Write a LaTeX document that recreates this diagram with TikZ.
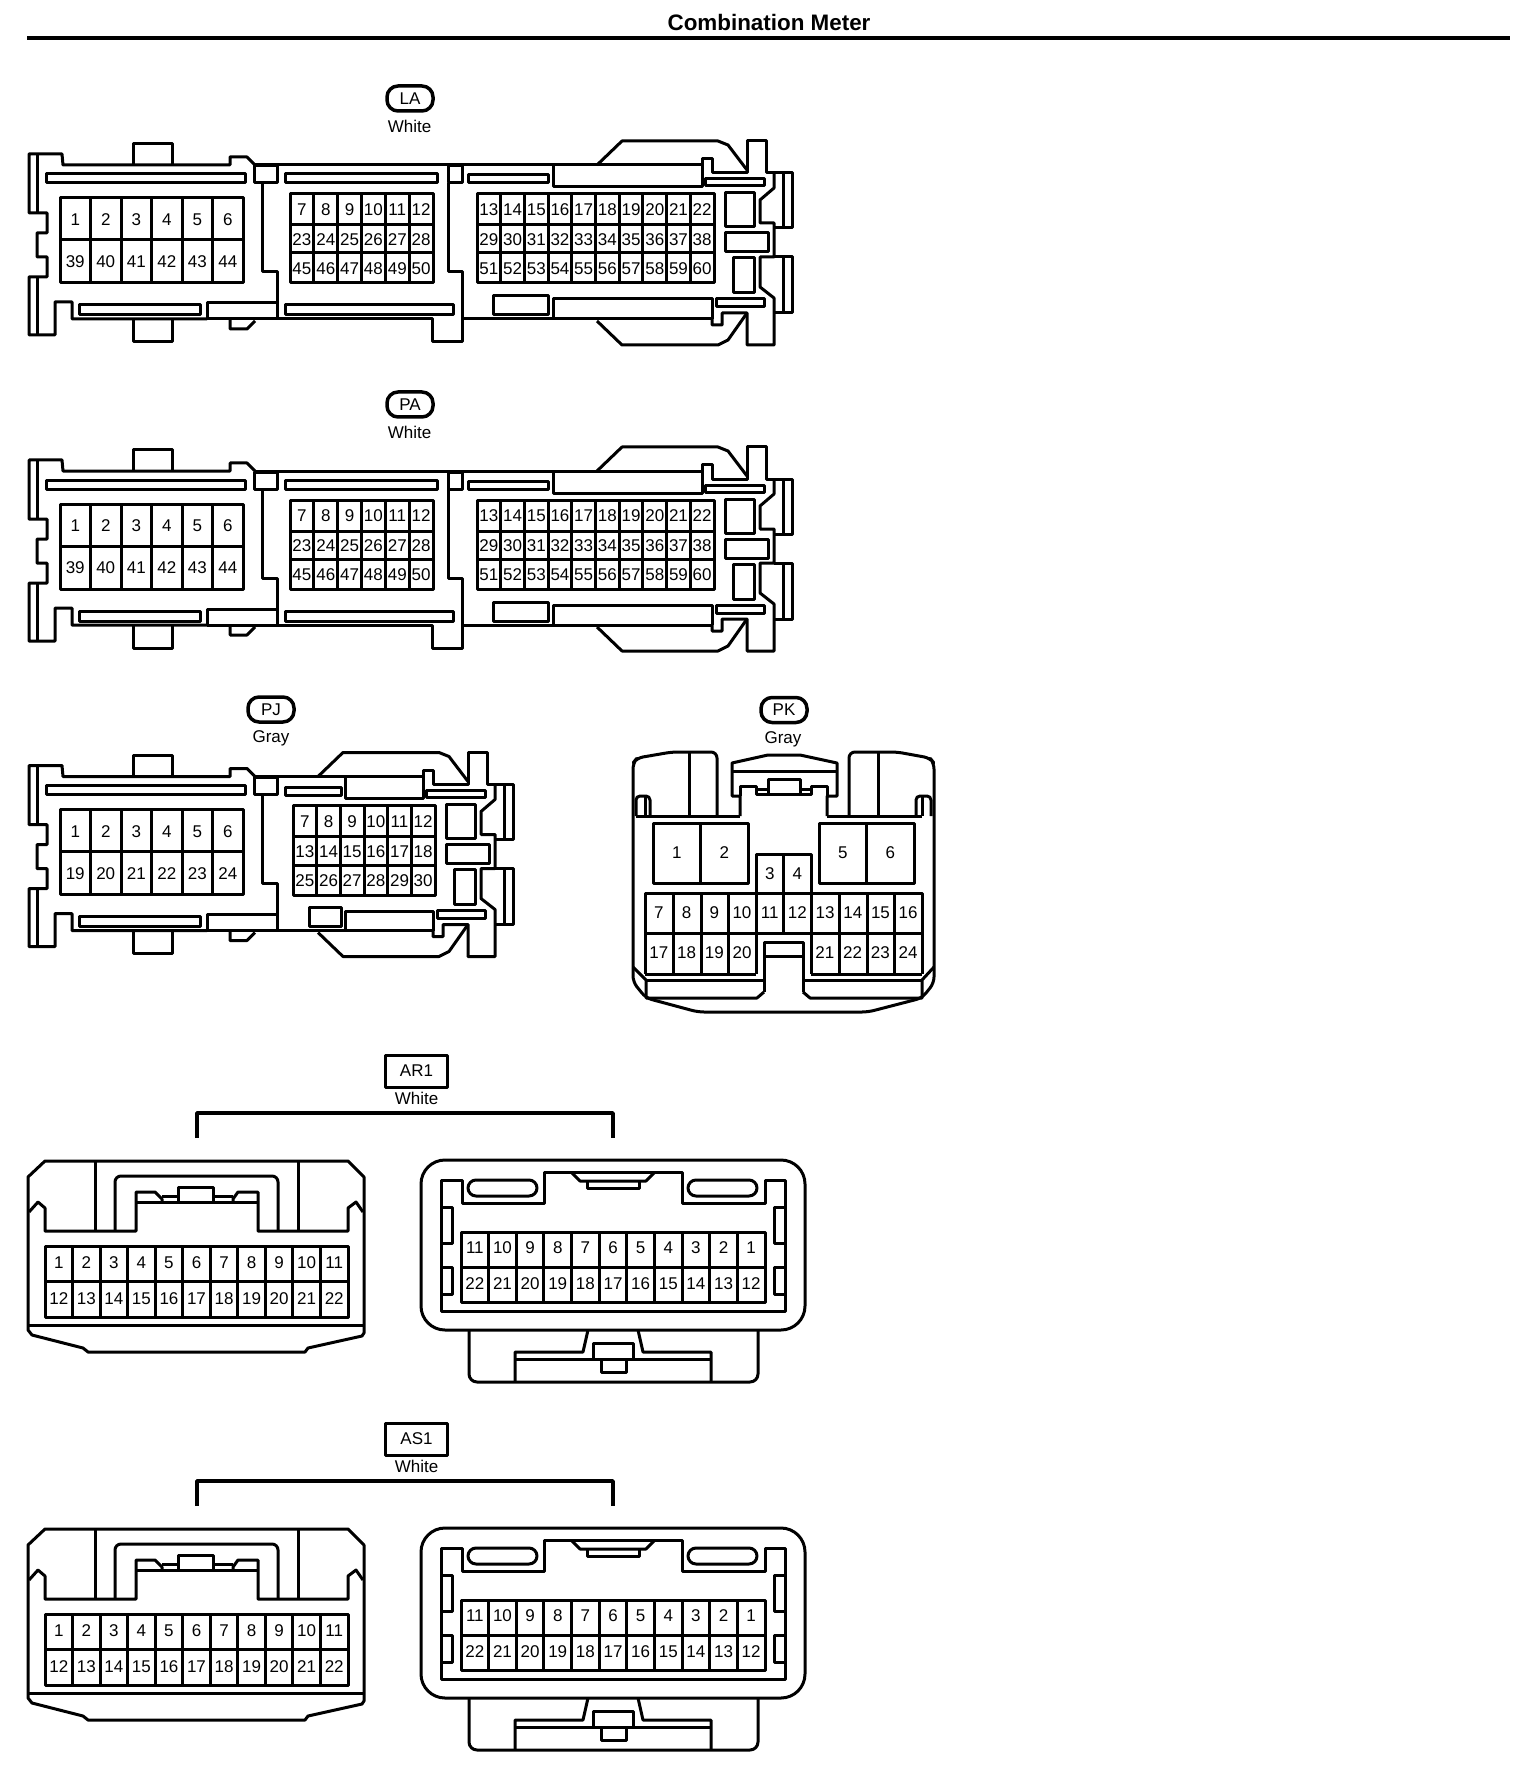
\documentclass[tikz,border=0pt]{standalone}
\usepackage{fontspec}
\setmainfont{Liberation Sans}
\newcommand{\pinbox}[6]{%
  \draw[conn] (#1,#2) rectangle (#3,#4);
  \pgfmathtruncatemacro{\lastcol}{#5-1}
  \foreach \c in {1,...,\lastcol} {
    \draw[conn] ({#1+\c*(#3-#1)/#5},#2) -- ({#1+\c*(#3-#1)/#5},#4);
  }
  \foreach \r in {#6} {
    \draw[conn] (#1,\r) -- (#3,\r);
  }
}
\newcommand{\pinrow}[6]{%
  \foreach \lab [count=\i] in {#6} {
    \node[pin] (#1\lab) at ({#2+(\i-0.5)*(#3-#2)/#4},#5) {\lab};
  }
}
\tikzset{
  conn/.style={line width=1.5pt, line join=round},
  pin/.style={inner sep=0pt, font=\fontsize{8.5}{10}\selectfont},
  colour/.style={inner sep=0pt, font=\fontsize{8.5}{10}\selectfont},
  oval/.style={conn, line width=1.75pt, draw, rounded corners=5.5pt, minimum width=23pt, minimum height=12.5pt, inner sep=0pt, font=\fontsize{8.5}{10}\selectfont},
  tag/.style={conn, draw, minimum width=31pt, minimum height=16pt, inner sep=0pt, font=\fontsize{8.5}{10}\selectfont},
  meterleft/.pic={
    \draw[conn] (207,319) -- (72,319) -- (72,302) -- (55,302) -- (55,335) -- (29,335) -- (29,277) -- (47,277) -- (47,257) -- (37,257) -- (37,233) -- (47,233) -- (47,213) -- (29,213) -- (29,154) -- (62,154) -- (63,165) -- (230,165) -- (230,157) -- (247,157) -- (255,165);
    \draw[conn] (37,154) -- (37,213) (37,277) -- (37,335);
    \draw[conn] (133,165) -- (133,144) -- (172,144) -- (172,165);
    \draw[conn] (133,319) -- (133,342) -- (172,342) -- (172,319);
    \draw[conn] (230,319) -- (230,329) -- (247,329) -- (255,321);
    \draw[conn] (46,174) rectangle (245,183);
    \draw[conn] (79,305) rectangle (200,315);
    \draw[conn] (207,319) -- (207,303) -- (277,303);
    \draw[conn] (254,166) rectangle (277,183);
    \draw[conn] (262,183) -- (262,272) -- (277,272) -- (277,319);
    \draw[conn] (207,319) -- (277,319);
    \pinbox{60}{198}{243}{283}{6}{240}
  },
  meterend/.pic={
    \draw[conn] (702,165) -- (702,159) -- (712,159) -- (712,173) -- (747,173) -- (747,141) -- (766,141) -- (766,173) -- (792,173) -- (792,228) -- (774,228);
    \draw[conn] (774,173) -- (774,188) -- (760,200) -- (760,223) -- (774,223) -- (774,257) -- (760,257) -- (760,287) -- (774,298) -- (774,345) -- (747,345) -- (747,313) -- (722,313) -- (722,325) -- (712,325) -- (712,319);
    \draw[conn] (774,257) -- (792,257) -- (792,313) -- (774,313);
    \draw[conn] (783,173) -- (783,228) (783,257) -- (783,313);
    \draw[conn] (597,165) -- (622,141) -- (718,141) -- (728,145) -- (747,170);
    \draw[conn] (597,321) -- (622,345) -- (718,345) -- (728,340) -- (747,313);
    \draw[conn] (705,179) rectangle (764,186);
    \draw[conn] (716,299) rectangle (764,307);
    \draw[conn] (725,193) rectangle (754,227);
    \draw[conn] (725,233) rectangle (768,252);
    \draw[conn] (733,258) rectangle (754,293);
  },
  metermid/.pic={
    \draw[conn] (255,165) -- (702,165);
    \draw[conn] (277,319) -- (432,319) -- (432,342) -- (462,342) -- (462,272) -- (448,272) -- (448,183);
    \draw[conn] (462,319) -- (712,319);
    \draw[conn] (448,166) rectangle (462,183);
    \draw[conn] (285,174) rectangle (437,183);
    \draw[conn] (285,305) rectangle (453,315);
    \draw[conn] (468,175) rectangle (548,183);
    \draw[conn] (493,296) rectangle (548,315);
    \draw[conn] (553,165) -- (553,187) -- (702,187) -- (702,165);
    \draw[conn] (553,319) -- (553,299) -- (712,299) -- (712,319);
    \pinbox{290}{194}{433}{283}{6}{225,253}
    \pinbox{477}{194}{714}{283}{10}{225,253}
    \pic at (0,0) {meterend};
  },
  arfront/.pic={
    \draw[conn] (28,1177) -- (45,1161) -- (348,1161) -- (364,1177) -- (364,1333) -- (362,1336) -- (308,1348) -- (305,1352) -- (88,1352) -- (83,1348) -- (32,1335) -- (28,1330) -- cycle;
    \draw[conn] (28,1325) -- (364,1325);
    \draw[conn] (29,1212) -- (38,1202) -- (45,1208) -- (45,1231) -- (136,1231) -- (136,1192) -- (155,1192) -- (162,1199) -- (162,1202);
    \draw[conn] (363,1212) -- (356,1202) -- (348,1208) -- (348,1231) -- (258,1231) -- (258,1192) -- (238,1192) -- (233,1199) -- (233,1202);
    \draw[conn] (136,1202) -- (258,1202);
    \draw[conn] (162,1196) -- (178,1196) (213,1196) -- (233,1196);
    \draw[conn] (178,1202) -- (178,1187) -- (213,1187) -- (213,1202);
    \draw[conn, rounded corners=3pt] (115,1231) -- (115,1176) -- (278,1176) -- (278,1231);
    \draw[conn, rounded corners=2pt] (95,1231) -- (95,1161) (298,1161) -- (298,1231);
    \pinbox{45}{1246}{348}{1317}{11}{1281}
  },
  arback/.pic={
    \draw[conn] (421,1160) [rounded corners=12pt] rectangle (805,1330);
    \draw[conn] (462,1180) -- (441,1180) -- (441,1311) -- (785,1311) -- (785,1180) -- (765,1180) -- (765,1203) -- (682,1203) -- (682,1172) -- (544,1172) -- (544,1203) -- (462,1203) -- cycle;
    \draw[conn] (572,1173) -- (580,1181) -- (646,1181) -- (654,1173);
    \draw[conn] (587,1181) -- (587,1188) -- (639,1188) -- (639,1181);
    \draw[conn, rounded corners=4pt] (468,1180) rectangle (537,1196);
    \draw[conn, rounded corners=4pt] (688,1180) rectangle (757,1196);
    \draw[conn] (441,1207) -- (452,1207) -- (452,1243) -- (441,1243);
    \draw[conn] (441,1267) -- (452,1267) -- (452,1294) -- (441,1294);
    \draw[conn] (785,1207) -- (774,1207) -- (774,1243) -- (785,1243);
    \draw[conn] (785,1267) -- (774,1267) -- (774,1294) -- (785,1294);
    \pinbox{461}{1232}{765}{1302}{11}{1267}
    \draw[conn, rounded corners=4pt] (469,1330) -- (469,1382) -- (758,1382) -- (758,1330);
    \draw[conn] (515,1381) -- (515,1352) -- (583,1352) -- (588,1330);
    \draw[conn] (638,1330) -- (643,1352) -- (711,1352) -- (711,1381);
    \draw[conn] (515,1359) -- (711,1359);
    \draw[conn] (593,1359) -- (593,1343) -- (633,1343) -- (633,1359);
    \draw[conn] (601,1359) -- (601,1372) -- (626,1372) -- (626,1359);
  }
}
\begin{document}
\begin{tikzpicture}[x=0.5pt, y=-0.5pt]
  \useasboundingbox (0,0) rectangle (1536,1786);
  % title
  \node[inner sep=0pt, font=\fontsize{11.2}{13}\selectfont\bfseries] (title) at (769,23) {Combination Meter};
  \fill (27,36) rectangle (1510,40);

  % LA
  \node[oval] (la) at (410,98.5) {LA};
  \node[colour] (lacol) at (409.5,126) {White};
  \pic at (0,0) {meterleft};
  \pic at (0,0) {metermid};
  \pinrow{laa}{60}{243}{6}{220}{1,2,3,4,5,6}
  \pinrow{lab}{60}{243}{6}{262}{39,40,41,42,43,44}
  \pinrow{lac}{290}{433}{6}{210}{7,8,9,10,11,12}
  \pinrow{lad}{290}{433}{6}{239.5}{23,24,25,26,27,28}
  \pinrow{lae}{290}{433}{6}{268.5}{45,46,47,48,49,50}
  \pinrow{laf}{477}{714}{10}{210}{13,14,15,16,17,18,19,20,21,22}
  \pinrow{lag}{477}{714}{10}{239.5}{29,30,31,32,33,34,35,36,37,38}
  \pinrow{lah}{477}{714}{10}{268.5}{51,52,53,54,55,56,57,58,59,60}

  % PA
  \begin{scope}[shift={(0,306)}]
    \node[oval] (pa) at (410,98.5) {PA};
    \node[colour] (pacol) at (409.5,126) {White};
    \pic at (0,0) {meterleft};
    \pic at (0,0) {metermid};
    \pinrow{paa}{60}{243}{6}{220}{1,2,3,4,5,6}
    \pinrow{pab}{60}{243}{6}{262}{39,40,41,42,43,44}
    \pinrow{pac}{290}{433}{6}{210}{7,8,9,10,11,12}
    \pinrow{pad}{290}{433}{6}{239.5}{23,24,25,26,27,28}
    \pinrow{pae}{290}{433}{6}{268.5}{45,46,47,48,49,50}
    \pinrow{paf}{477}{714}{10}{210}{13,14,15,16,17,18,19,20,21,22}
    \pinrow{pag}{477}{714}{10}{239.5}{29,30,31,32,33,34,35,36,37,38}
    \pinrow{pah}{477}{714}{10}{268.5}{51,52,53,54,55,56,57,58,59,60}
  \end{scope}

  % PJ
  \begin{scope}[shift={(0,611.5)}]
    \node[oval] (pj) at (271,98) {PJ};
    \node[colour] (pjcol) at (271,127) {Gray};
    \pic at (0,0) {meterleft};
    \pic at (-279,0) {meterend};
    \draw[conn] (255,165) -- (423,165);
    \draw[conn] (277,319) -- (433,319);
    \draw[conn] (285,176) rectangle (341,184);
    \draw[conn] (345,165) -- (345,187) -- (423,187) -- (423,165);
    \draw[conn] (345,319) -- (345,300) -- (433,300) -- (433,319);
    \draw[conn] (309,296) rectangle (341,315);
    \pinbox{293}{194}{435}{284}{6}{225,254}
    \pinrow{pja}{60}{243}{6}{220}{1,2,3,4,5,6}
    \pinrow{pjb}{60}{243}{6}{262}{19,20,21,22,23,24}
    \pinrow{pjc}{293}{435}{6}{210}{7,8,9,10,11,12}
    \pinrow{pjd}{293}{435}{6}{240}{13,14,15,16,17,18}
    \pinrow{pje}{293}{435}{6}{269}{25,26,27,28,29,30}
  \end{scope}

  % PK
  \node[oval] (pk) at (784,710) {PK};
  \node[colour] (pkcol) at (783,739) {Gray};
  \draw[conn, rounded corners=3pt] (717,816) -- (717,752) -- (672,752) -- (637,758) -- (633,763) -- (633,982) -- (646,998) -- (698,1012) -- (868,1012) -- (922,998) -- (934,983) -- (934,763) -- (930,758) -- (897,752) -- (849,752) -- (849,816);
  \draw[conn] (689,752) -- (689,816) (878,752) -- (878,816);
  \draw[conn] (636,816) -- (740,816) (827,816) -- (922,816);
  \draw[conn, rounded corners=2pt] (636,816) -- (636,796) -- (650,796) -- (650,816);
  \draw[conn] (645,796) -- (645,816);
  \draw[conn, rounded corners=2pt] (931,816) -- (931,796) -- (916,796) -- (916,816);
  \draw[conn] (922,796) -- (922,816);
  \draw[conn] (740,816) -- (740,796) -- (732,796) -- (732,763) -- (768,755) -- (800,755) -- (837,763) -- (837,796) -- (827,796) -- (827,816);
  \draw[conn] (732,771) -- (837,771);
  \draw[conn] (740,796) -- (740,786) -- (756,786) -- (756,794) -- (811,794) -- (811,786) -- (827,786) -- (827,796);
  \draw[conn] (768,794) -- (768,779) -- (800,779) -- (800,794);
  \draw[conn] (756,789) -- (768,789) (800,789) -- (811,789);
  \pinbox{653}{823}{748}{883}{2}{}
  \pinbox{819}{823}{914}{883}{2}{}
  \draw[conn] (756,893) -- (756,854) -- (811,854) -- (811,893);
  \draw[conn] (783,854) -- (783,933);
  \draw[conn] (645,893) rectangle (922,933);
  \foreach \x in {673,701,728,756,811,839,867,894} {
    \draw[conn] (\x,893) -- (\x,974);
  }
  \foreach \x in {645,922} {
    \draw[conn] (\x,933) -- (\x,974);
  }
  \draw[conn] (645,974) -- (756,974) (811,974) -- (922,974);
  \draw[conn] (764,992) -- (764,942) -- (803,942) -- (803,992);
  \draw[conn] (764,956) -- (803,956);
  \draw[conn] (646,980) -- (764,980) (803,980) -- (922,980);
  \draw[conn] (764,992) -- (757,998) -- (646,998) -- (646,980) -- (633,967);
  \draw[conn] (803,992) -- (810,998) -- (922,998) -- (922,980) -- (934,967);
  \pinrow{pka}{653}{748}{2}{853}{1,2}
  \pinrow{pkb}{819}{914}{2}{853}{5,6}
  \pinrow{pkc}{756}{811}{2}{874}{3,4}
  \pinrow{pkd}{645}{922}{10}{913}{7,8,9,10,11,12,13,14,15,16}
  \pinrow{pke}{645}{756}{4}{953}{17,18,19,20}
  \pinrow{pkf}{811}{922}{4}{953}{21,22,23,24}

  % AR1
  \node[tag] (ar) at (416.5,1071) {AR1};
  \node[colour] (arcol) at (416.5,1098) {White};
  \coordinate (arl) at (197,1138);
  \coordinate (arr) at (613,1138);
  \draw[conn, line width=1.75pt] (arl) -- (197,1113) -- (613,1113) -- (arr);
  \pic at (0,0) {arfront};
  \pic at (0,0) {arback};
  \pinrow{ara}{45}{348}{11}{1263}{1,2,3,4,5,6,7,8,9,10,11}
  \pinrow{arb}{45}{348}{11}{1299}{12,13,14,15,16,17,18,19,20,21,22}
  \pinrow{arc}{461}{765}{11}{1248}{11,10,9,8,7,6,5,4,3,2,1}
  \pinrow{ard}{461}{765}{11}{1284}{22,21,20,19,18,17,16,15,14,13,12}

  % AS1
  \begin{scope}[shift={(0,368)}]
    \node[tag] (as) at (416.5,1071) {AS1};
    \node[colour] (ascol) at (416.5,1098) {White};
    \coordinate (asl) at (197,1138);
    \coordinate (asr) at (613,1138);
    \draw[conn, line width=1.75pt] (asl) -- (197,1113) -- (613,1113) -- (asr);
    \pic at (0,0) {arfront};
    \pic at (0,0) {arback};
    \pinrow{asa}{45}{348}{11}{1263}{1,2,3,4,5,6,7,8,9,10,11}
    \pinrow{asb}{45}{348}{11}{1299}{12,13,14,15,16,17,18,19,20,21,22}
    \pinrow{asc}{461}{765}{11}{1248}{11,10,9,8,7,6,5,4,3,2,1}
    \pinrow{asd}{461}{765}{11}{1284}{22,21,20,19,18,17,16,15,14,13,12}
  \end{scope}
\end{tikzpicture}
\end{document}
